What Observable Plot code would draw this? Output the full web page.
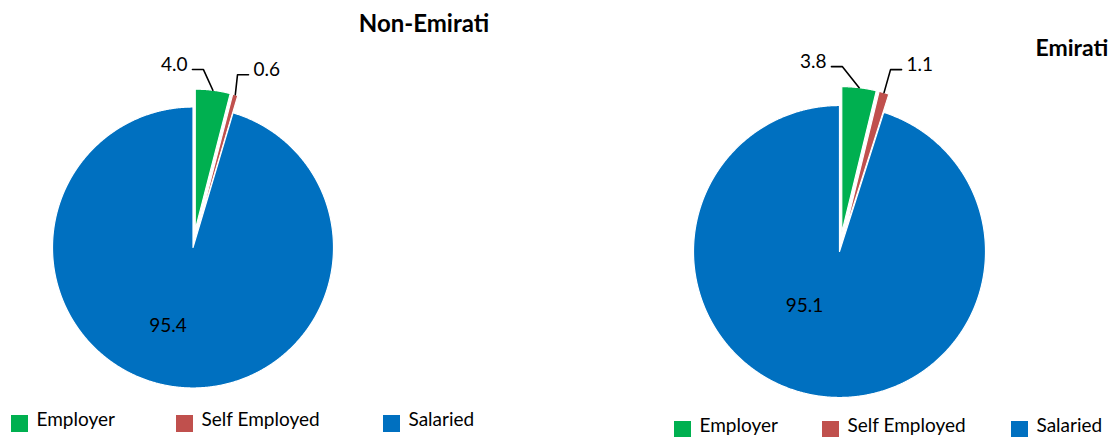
<!DOCTYPE html>
<html><head><meta charset="utf-8">
<script src="https://cdn.jsdelivr.net/npm/d3@7"></script>
<script src="https://cdn.jsdelivr.net/npm/@observablehq/plot@0.6"></script>
<style>body{margin:0;background:#fff;overflow:hidden;}</style>
</head><body><div id="chart"></div>
<script>
// ---- data ----
const categories = ["Employer", "Self Employed", "Salaried"];
const colors = ["#00b050", "#c0504d", "#0070c0"];
const groups = ["Non-Emirati", "Emirati"];
const nonEmiratiValues = [4.0, 0.6, 95.4];
const emiratiValues = [3.8, 1.1, 95.1];

// ---- layout (pixels) ----
const W = 1117, H = 437;
const layout = [
  {values: nonEmiratiValues, cx: 192.5, cy: 247, r: 140.5, explode: 18,
   titleX: 423.5, titleY: 31, titleAnchor: "middle",
   legendTop: 415, legendX: [11, 176, 383],
   inner: [-25, 78],
   leaders: [{dx: -9.4, dy: -20.7, side: -1}, {dx: 2.2, dy: -20, side: 1}]},
  {values: emiratiValues, cx: 839, cy: 251, r: 146, explode: 19,
   titleX: 1035, titleY: 55, titleAnchor: "start",
   legendTop: 421, legendX: [674, 822, 1011],
   inner: [-35, 54],
   leaders: [{dx: -16.7, dy: -21, side: -1}, {dx: 6.5, dy: -23, side: 1}]}
];
const fmt = d3.format(".1f");

const slices = [], leaderLines = [], outerLabels = [], innerLabels = [], titles = [], legendRects = [], legendTexts = [];
groups.forEach((g, gi) => {
  const L = layout[gi];
  const arcs = d3.pie().sort(null).value(d => d)(L.values);
  let li = 0;
  arcs.forEach((a, i) => {
    const cat = categories[i];
    const mid = (a.startAngle + a.endAngle) / 2;
    const ex = i < 2 ? L.explode : 0;
    const ox = L.cx + ex * Math.sin(mid), oy = L.cy - ex * Math.cos(mid);
    const id = g + "-" + cat;
    slices.push({id, cat, x: ox, y: oy});
    const n = Math.max(2, Math.ceil((a.endAngle - a.startAngle) / 0.005));
    for (let k = 0; k <= n; k++) {
      const t = a.startAngle + (a.endAngle - a.startAngle) * k / n;
      slices.push({id, cat, x: ox + L.r * Math.sin(t), y: oy - L.r * Math.cos(t)});
    }
    slices.push({id, cat, x: ox, y: oy});
    if (i < 2) {
      const ld = L.leaders[li++];
      const px = ox + L.r * Math.sin(mid), py = oy - L.r * Math.cos(mid);
      const qx = px + ld.dx, qy = py + ld.dy;
      const rx = qx + ld.side * 11;
      leaderLines.push({id, x: px, y: py}, {id, x: qx, y: qy}, {id, x: rx, y: qy});
      outerLabels.push({x: rx + ld.side * 5, y: qy - 5, text: fmt(a.data), anchor: ld.side < 0 ? "end" : "start"});
    } else {
      innerLabels.push({x: L.cx + L.inner[0], y: L.cy + L.inner[1], text: fmt(a.data)});
    }
    legendRects.push({cat, x1: L.legendX[i], x2: L.legendX[i] + 17, y1: L.legendTop, y2: L.legendTop + 17});
    legendTexts.push({x: L.legendX[i] + 25, y: L.legendTop + 10.5, text: cat});
  });
  titles.push({x: L.titleX, y: L.titleY, text: g, anchor: L.titleAnchor});
});

const chart = Plot.plot({
  width: W, height: H, margin: 0,
  style: {fontFamily: "Lato, sans-serif", background: "white", color: "black"},
  x: {domain: [0, W], range: [0, W], axis: null},
  y: {domain: [0, H], range: [0, H], axis: null},
  color: {domain: categories, range: colors},
  marks: [
    Plot.line(slices, {x: "x", y: "y", z: "id", fill: "cat", stroke: "white", strokeWidth: 1.2, curve: "linear"}),
    Plot.line(leaderLines, {x: "x", y: "y", z: "id", stroke: "black", strokeWidth: 1.6}),
    Plot.text(outerLabels.filter(d => d.anchor === "end"), {x: "x", y: "y", text: "text", textAnchor: "end", fontSize: 19, fill: "black"}),
    Plot.text(outerLabels.filter(d => d.anchor === "start"), {x: "x", y: "y", text: "text", textAnchor: "start", fontSize: 19, fill: "black"}),
    Plot.text(innerLabels, {x: "x", y: "y", text: "text", fontSize: 19, fill: "black"}),
    Plot.text(titles.filter(d => d.anchor === "middle"), {x: "x", y: "y", text: "text", textAnchor: "middle", lineAnchor: "bottom", fontSize: 24, fontWeight: "bold", fill: "black"}),
    Plot.text(titles.filter(d => d.anchor === "start"), {x: "x", y: "y", text: "text", textAnchor: "start", lineAnchor: "bottom", fontSize: 23, fontWeight: "bold", fill: "black"}),
    Plot.rect(legendRects, {x1: "x1", x2: "x2", y1: "y1", y2: "y2", fill: "cat"}),
    Plot.text(legendTexts, {x: "x", y: "y", text: "text", textAnchor: "start", lineAnchor: "bottom", fontSize: 19, fill: "black"})
  ]
});
document.getElementById("chart").appendChild(chart);
</script>
</body></html>
